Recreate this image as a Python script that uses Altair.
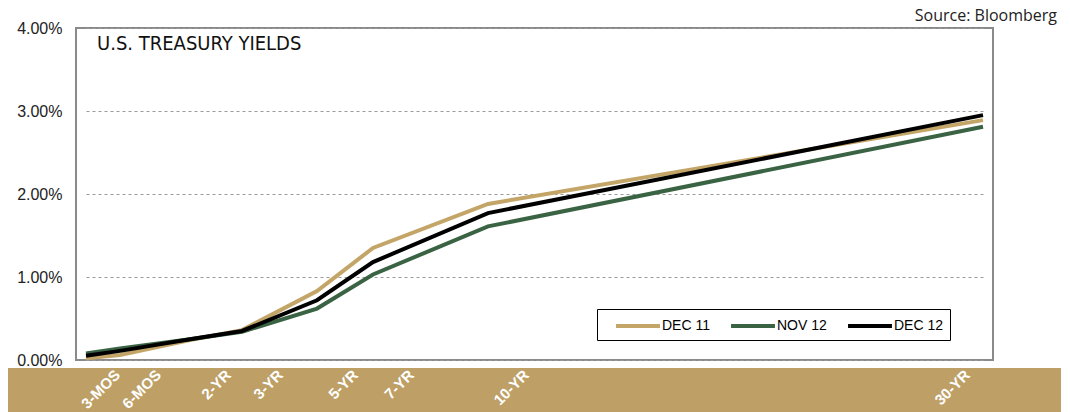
import altair as alt
import pandas as pd

# ---- data -------------------------------------------------------------
maturity_years = [0.25, 0.5, 2, 3, 5, 7, 10, 30]
maturity_labels = ["3-MOS", "6-MOS", "2-YR", "3-YR", "5-YR", "7-YR", "10-YR", "30-YR"]
series_names = ["DEC 11", "NOV 12", "DEC 12"]
dec11 = [0.02, 0.06, 0.24, 0.36, 0.83, 1.35, 1.88, 2.89]
nov12 = [0.08, 0.14, 0.25, 0.34, 0.62, 1.03, 1.61, 2.81]
dec12 = [0.05, 0.11, 0.25, 0.35, 0.72, 1.18, 1.77, 2.95]
y_ticks = [0, 1, 2, 3, 4]
title_text = ["U.S. TREASURY YIELDS"]
source_text = ["Source: Bloomberg"]

series_colors = ["#C4A568", "#3A6344", "#000000"]
band_color = "#BE9F66"

rows = []
for name, vals in zip(series_names, [dec11, nov12, dec12]):
    for m, v in zip(maturity_years, vals):
        rows.append({"series": name, "maturity": m, "yield": v})
df = pd.DataFrame(rows)

W, H = 917, 332
# piecewise x scale (maturity axis is not evenly spaced in the original)
x_range = [10, 44, 114, 166, 241, 297, 412, 907]

label_expr = " : ".join(
    f"datum.value == {m} ? '{l}'" for m, l in zip(maturity_years, maturity_labels)
) + " : ''"

x_axis = alt.Axis(
    values=maturity_years,
    labelExpr=label_expr,
    labelAngle=-45,
    labelAlign="right",
    labelBaseline="middle",
    labelColor="white",
    labelFontWeight="bold",
    labelFont="Liberation Sans",
    labelFontSize=15,
    labelPadding=12,
    labelOffset={
        "condition": [
            {"test": "datum.value == 30", "value": -16},
            {"test": "datum.value == 0.25", "value": 31},
        ],
        "value": 38,
    },
    labelOverlap=False,
    labelFlush=False,
    labelBound=False,
    ticks=False,
    domain=False,
    grid=False,
    title=None,
    zindex=1,
)

y_axis = alt.Axis(
    values=y_ticks,
    labelExpr="format(datum.value, '.2f') + '%'",
    grid=True,
    gridDash=[3, 3],
    gridColor="#9a9a9a",
    gridWidth=1,
    ticks=False,
    domain=False,
    labelFont="Liberation Sans",
    labelFontSize=16,
    labelColor="#222222",
    labelPadding=14,
    title=None,
)

band = alt.Chart(pd.DataFrame({"b": [0]})).mark_rect(color=band_color).encode(
    x=alt.value(-68), x2=alt.value(985), y=alt.value(340), y2=alt.value(384)
)

lines = alt.Chart(df).mark_line(strokeWidth=4).encode(
    x=alt.X("maturity:Q", scale=alt.Scale(domain=maturity_years, range=x_range), axis=x_axis),
    y=alt.Y("yield:Q", scale=alt.Scale(domain=[0, 4], nice=False), axis=y_axis),
    color=alt.Color(
        "series:N",
        scale=alt.Scale(domain=series_names, range=series_colors),
        legend=alt.Legend(
            orient="none",
            legendX=521,
            legendY=281,
            direction="horizontal",
            title=None,
            symbolType="M-2.44,0H2.44",
            symbolSize=324,
            symbolStrokeWidth=4,
            symbolOffset=24,
            labelFont="Liberation Sans",
            labelFontSize=14,
            labelColor="black",
            labelOffset=13,
            columnPadding=8,
            padding=6,
            strokeColor="black",
            fillColor="white",
        ),
    ),
)

title_mark = alt.Chart(pd.DataFrame({"t": title_text})).mark_text(
    align="left", baseline="alphabetic",
    font="Liberation Sans Narrow, DejaVu Sans Condensed, sans-serif",
    fontSize=20, color="#111111",
).encode(x=alt.value(21), y=alt.value(22), text="t:N")

source_mark = alt.Chart(pd.DataFrame({"t": source_text})).mark_text(
    align="right", baseline="alphabetic",
    font="Open Sans", fontSize=16, color="#222222",
).encode(x=alt.value(981), y=alt.value(-7), text="t:N")

chart = alt.layer(band, lines, title_mark, source_mark).properties(
    width=W,
    height=H,
    autosize=alt.AutoSizeParams(type="none"),
    padding={"left": 68, "top": 20, "right": 69, "bottom": 52},
).configure_view(stroke="#8a8a8a", strokeWidth=2)

chart.save("out.html", embed_options={"renderer": "svg", "actions": False})
